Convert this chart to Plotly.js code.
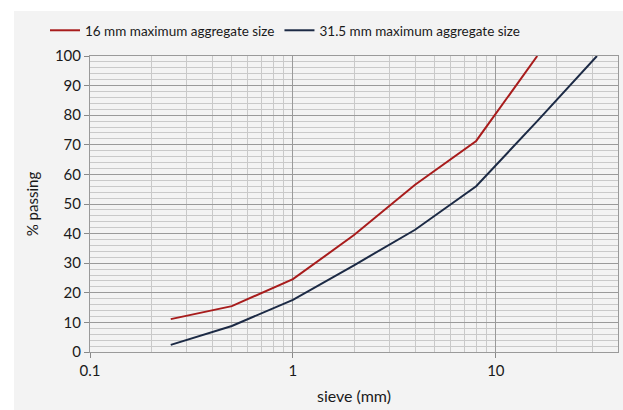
<!DOCTYPE html>
<html>
<head>
<meta charset="utf-8">
<script src="https://cdn.plot.ly/plotly-3.0.1.min.js"></script>
<style>html,body{margin:0;padding:0;background:#fff;}#chart{width:623px;height:410px;}</style>
</head>
<body>
<div id="chart"></div>
<script>
// Data
const sieve16 = [0.25, 0.5, 1, 2, 4, 8, 16];
const passing16 = [11.1, 15.5, 24.6, 39.5, 56.5, 71.3, 100];
const sieve31 = [0.25, 0.5, 1, 2, 4, 8, 16, 31.5];
const passing31 = [2.4, 8.8, 17.6, 29.3, 41.3, 56, 78, 100];
const seriesNames = ["16 mm maximum aggregate size", "31.5 mm maximum aggregate size"];
const xTickVals = [0.1, 1, 10];
const xTickText = ["0.1", "1", "10"];

const font = "Lato, 'Open Sans', sans-serif";
const bg = '#f3f3f3';

const traces = [
  {x: sieve16, y: passing16, name: seriesNames[0], type: 'scatter', mode: 'lines',
   line: {color: '#a81c1c', width: 2}},
  {x: sieve31, y: passing31, name: seriesNames[1], type: 'scatter', mode: 'lines',
   line: {color: '#1c2a45', width: 2}}
];

// plot area: 528 x 296 px, margins l=90 t=56 b=58
const PW = 528, PH = 296;
const layout = {
  width: 623, height: 410,
  paper_bgcolor: bg,
  plot_bgcolor: bg,
  margin: {l: 90, r: 5, t: 56, b: 58},
  font: {family: font, size: 15, color: '#1a1a1a'},
  showlegend: true,
  legend: {orientation: 'h', xref: 'container', x: 285/623, xanchor: 'center',
           yref: 'container', y: 1 - 15/410, yanchor: 'top',
           font: {family: font, size: 13.5, color: '#1a1a1a'}, bgcolor: 'rgba(0,0,0,0)',
           itemwidth: 30, tracegroupgap: 0},
  xaxis: {
    type: 'log',
    range: [Math.log10(0.1), Math.log10(40)],
    tickvals: xTickVals, ticktext: xTickText,
    ticks: 'outside', ticklen: 5, tickcolor: '#888',
    showgrid: true, gridcolor: '#9a9a9a', gridwidth: 1,
    minor: {dtick: 'D1', showgrid: true, gridcolor: '#c9c9c9', gridwidth: 1, ticks: ''},
    showline: true, linecolor: '#9a9a9a', mirror: true,
    zeroline: false,
    tickfont: {size: 15},
    title: {text: 'sieve (mm)', font: {size: 16}, standoff: 12}
  },
  yaxis: {
    range: [0, 100],
    dtick: 10, tick0: 0,
    ticks: 'outside', ticklen: 5, tickcolor: '#888',
    showgrid: true, gridcolor: '#9a9a9a', gridwidth: 1,
    minor: {dtick: 2, showgrid: true, gridcolor: '#c9c9c9', gridwidth: 1, ticks: ''},
    showline: true, linecolor: '#9a9a9a', mirror: true,
    zeroline: false,
    tickfont: {size: 15},
    title: {text: '% passing', font: {size: 15}, standoff: 12}
  },
  shapes: [
    // white frame strips (top and left) around the grey chart area
    {type: 'rect', xref: 'paper', yref: 'paper', layer: 'below',
     x0: -90/PW, x1: 1.1, y0: (PH + 45)/PH, y1: (PH + 56)/PH,
     fillcolor: '#ffffff', line: {width: 0}},
    {type: 'rect', xref: 'paper', yref: 'paper', layer: 'below',
     x0: -90/PW, x1: -76/PW, y0: -58/PH, y1: (PH + 56)/PH,
     fillcolor: '#ffffff', line: {width: 0}}
  ]
};

Plotly.newPlot('chart', traces, layout, {displayModeBar: false, staticPlot: true});
</script>
</body>
</html>
